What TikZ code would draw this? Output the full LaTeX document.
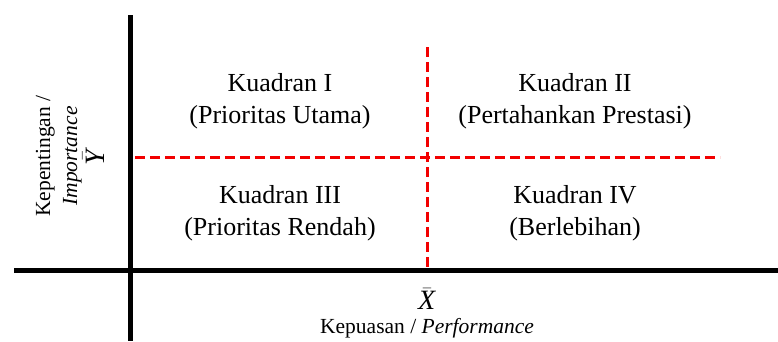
\documentclass[tikz,border=0pt]{standalone}
\usepackage{fontspec}
\setmainfont{Liberation Serif}
\usetikzlibrary{
	positioning
}
\tikzset{
	axis line/.style={
		line width=5pt
		,black
	}
	,split line/.style={
		line width=3pt
		,red!95!black
		,dash pattern=on 10pt off 5pt
	}
	,quad text/.style={
		align=center
		,inner sep=0pt
		,font=\fontsize{26}{32}\selectfont
	}
	,axis text/.style={
		align=center
		,inner sep=0pt
		,font=\fontsize{21.5}{27}\selectfont
	}
}

\begin{document}
\begin{tikzpicture}[x=1pt, y=-1pt]
\useasboundingbox (0,0) rectangle (778,341);
% axes
\coordinate (ytop) at (130,15);
\coordinate (ybot) at (130,341);
\coordinate (xleft) at (14,270);
\coordinate (xright) at (778,270);
\draw[axis line] (ytop) -- (ybot);
\draw[axis line] (xleft) -- (xright);
% mean lines
\coordinate (htop) at (427,47);
\coordinate (hbot) at (427,268);
\coordinate (vleft) at (135,157);
\coordinate (vright) at (720,157);
\draw[split line] (htop) -- (hbot);
\draw[split line] (vleft) -- (vright);
% quadrants
\node[quad text] (q1) at (280,101) {Kuadran I\\(Prioritas Utama)};
\node[quad text] (q2) at (575,101) {Kuadran II\\(Pertahankan Prestasi)};
\node[quad text] (q3) at (280,213) {Kuadran III\\(Prioritas Rendah)};
\node[quad text] (q4) at (575,213) {Kuadran IV\\(Berlebihan)};
% axis labels
\node[axis text] (xbar) at (427,299) {\fontsize{28}{30}\selectfont$\bar{\mbox{\textit{X}}}$};
\node[axis text, below=8pt of xbar] (xlab) {Kepuasan / \textit{Performance}};
\node[axis text, rotate=90] (ylab) at (70,156) {Kepentingan /\\\textit{Importance}\\{\fontsize{28}{27}\selectfont$\bar{\mbox{\textit{Y}}}$}};
\end{tikzpicture}
\end{document}
